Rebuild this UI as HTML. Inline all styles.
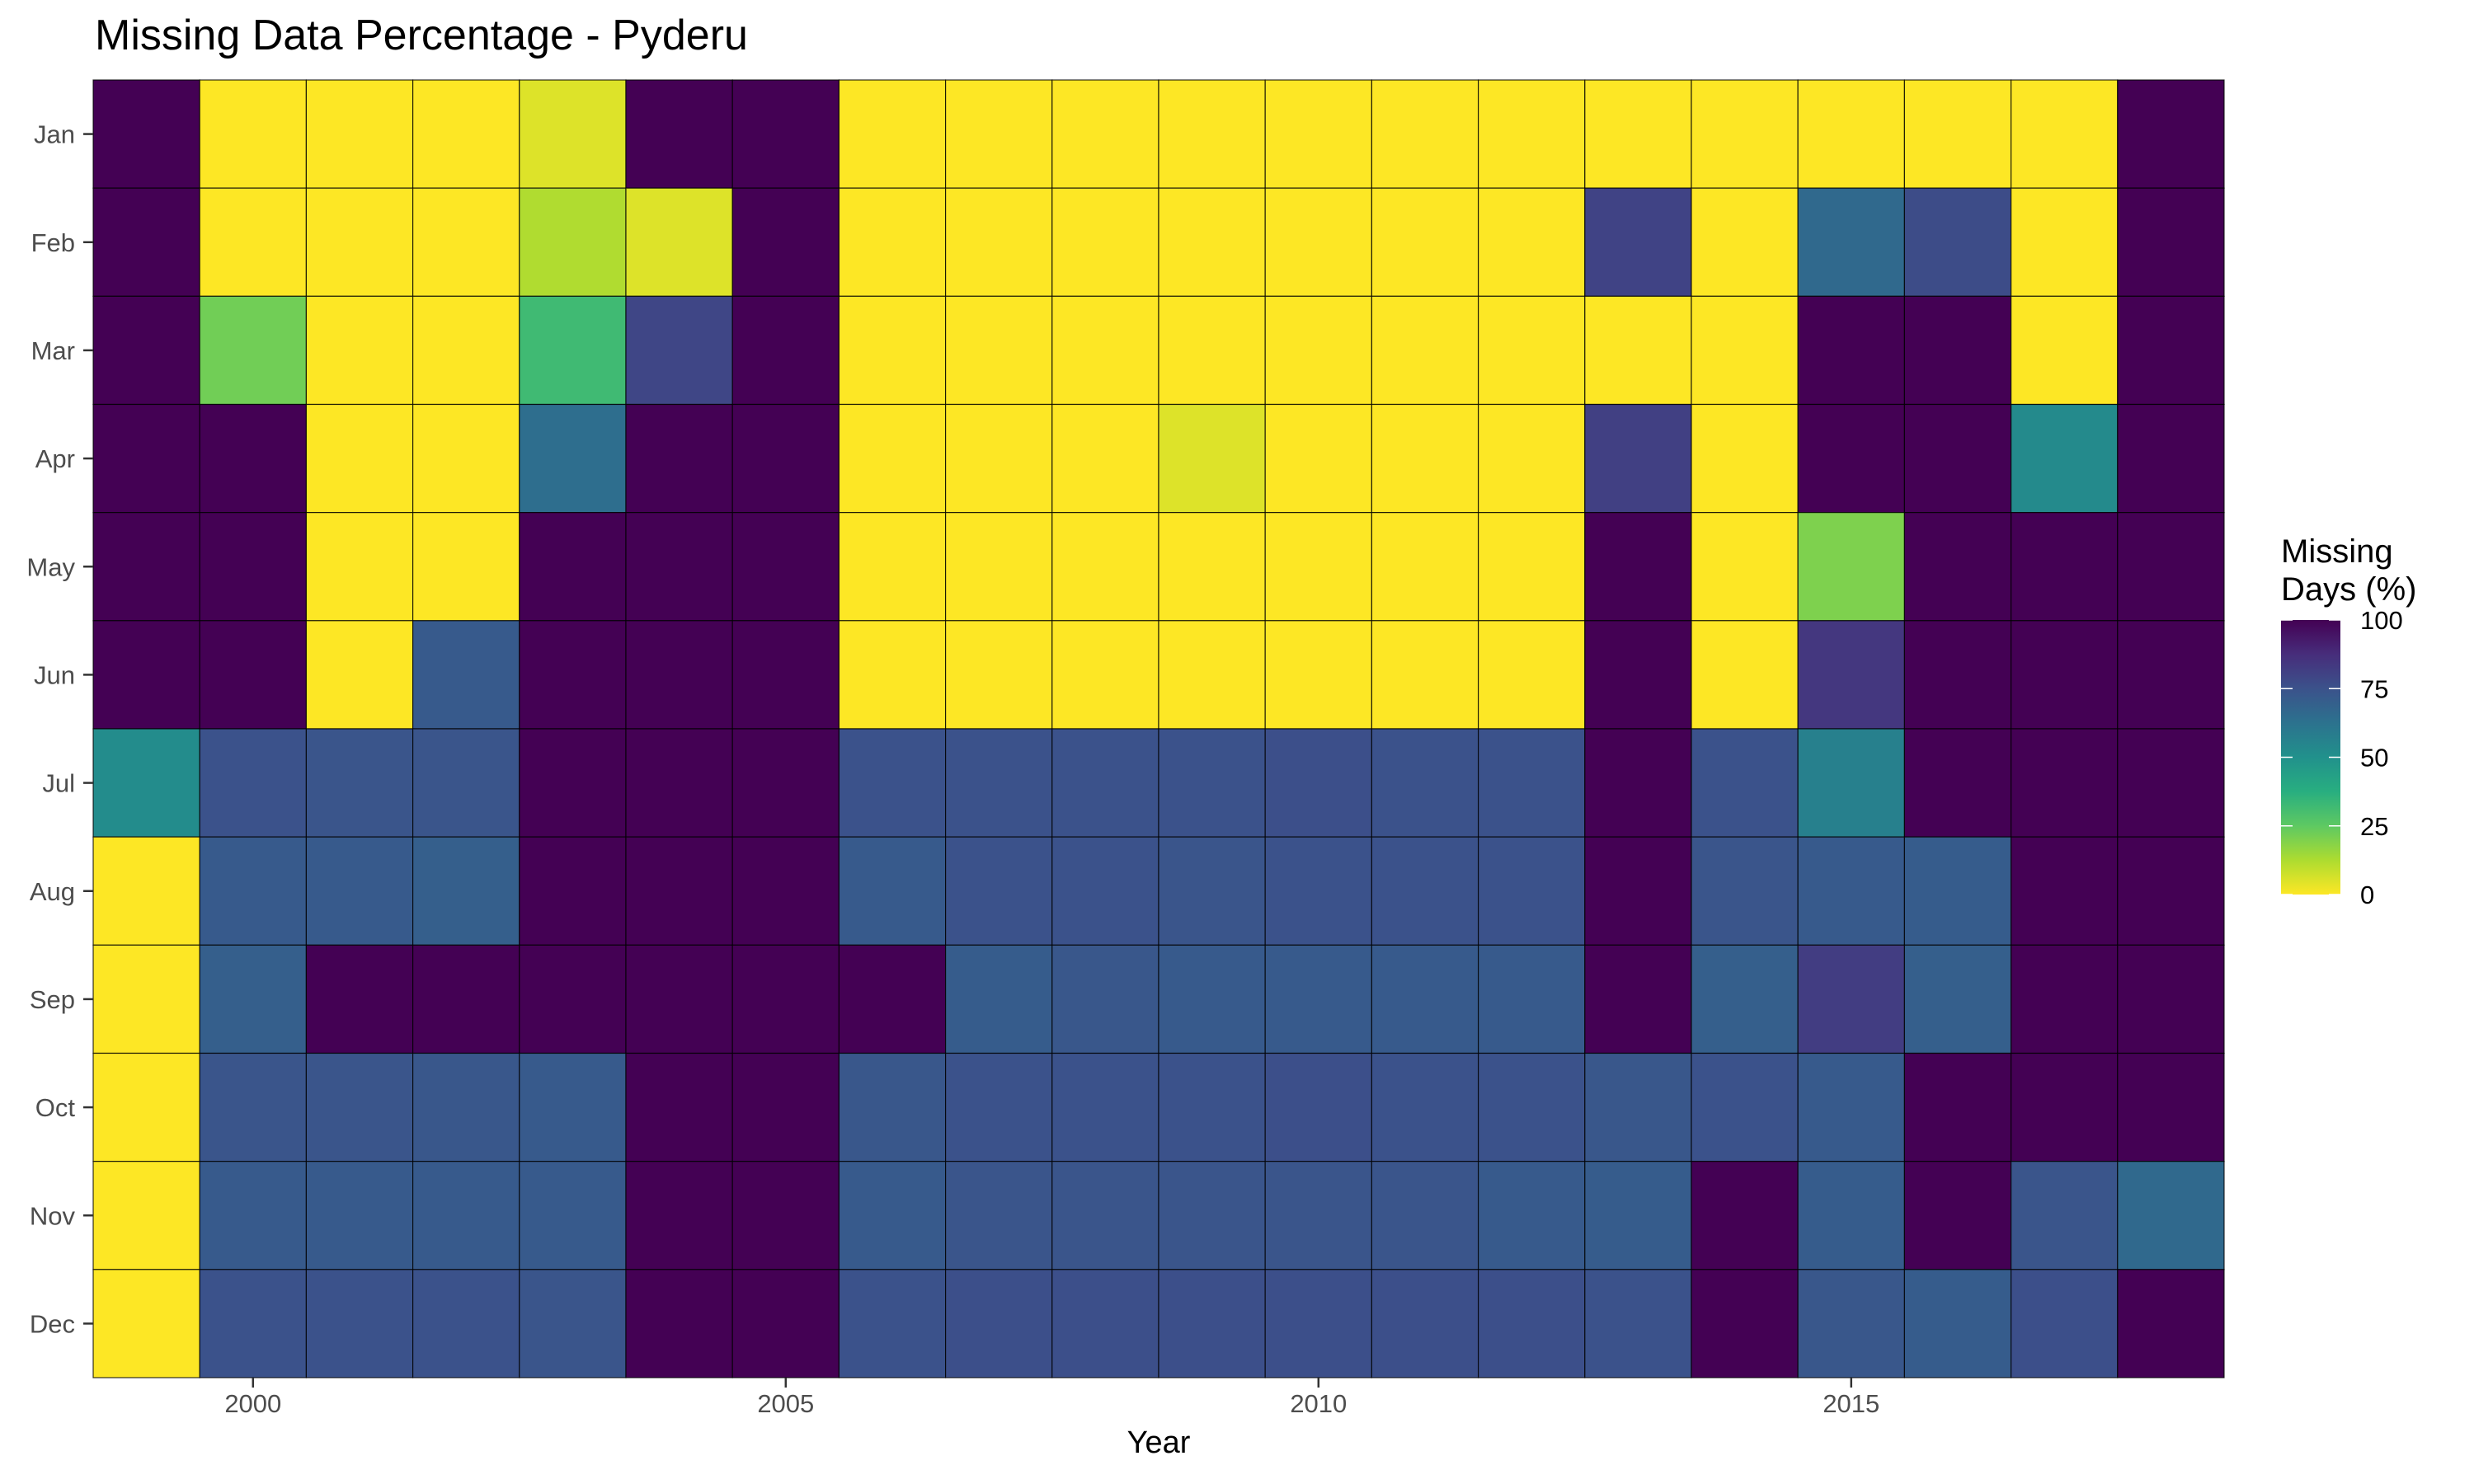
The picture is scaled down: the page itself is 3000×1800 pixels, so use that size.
<!DOCTYPE html>
<html><head><meta charset="utf-8"><style>
html,body{margin:0;padding:0;background:#fff;}
svg{display:block;font-family:"Liberation Sans",Arial,sans-serif;}
</style></head><body>
<svg id="chart" width="3000" height="1800" viewBox="0 0 3000 1800" xmlns="http://www.w3.org/2000/svg">
<defs>
<linearGradient id="vir" x1="0" y1="1" x2="0" y2="0">
<stop offset="0" stop-color="#fde725"/><stop offset="0.125" stop-color="#addc30"/>
<stop offset="0.25" stop-color="#5ec962"/><stop offset="0.375" stop-color="#28ae80"/>
<stop offset="0.5" stop-color="#21918c"/><stop offset="0.625" stop-color="#2c728e"/>
<stop offset="0.75" stop-color="#3b528b"/><stop offset="0.875" stop-color="#472d7b"/>
<stop offset="1" stop-color="#440154"/>
</linearGradient>
</defs>
<text x="115" y="60" font-size="52" fill="#000">Missing Data Percentage - Pyderu</text>
<g id="cells"></g>
<g id="yaxis"></g>
<g id="xaxis"></g>
<text x="1405" y="1762" font-size="38" text-anchor="middle" fill="#000">Year</text>
<g>
<text x="2766" y="682" font-size="40" fill="#000">Missing</text>
<text x="2766" y="728" font-size="40" fill="#000">Days (%)</text>
<rect x="2766" y="752" width="72" height="333" fill="url(#vir)"/>
<g id="legticks"></g>
</g>
</svg>
<script>
const years = [1999,2000,2001,2002,2003,2004,2005,2006,2007,2008,2009,2010,2011,2012,2013,2014,2015,2016,2017,2018];
const months = ["Jan","Feb","Mar","Apr","May","Jun","Jul","Aug","Sep","Oct","Nov","Dec"];
const xTicks = [2000,2005,2010,2015];
const legendTicks = [0,25,50,75,100];
const rowJan = [100,0,0,0,5,100,100,0,0,0,0,0,0,0,0,0,0,0,0,100];
const rowFeb = [100,0,0,0,12,5,100,0,0,0,0,0,0,0,80,0,66,77,0,100];
const rowMar = [100,22,0,0,32,79,100,0,0,0,0,0,0,0,0,0,100,100,0,100];
const rowApr = [100,100,0,0,64,100,100,0,0,0,5,0,0,0,81,0,100,100,53,100];
const rowMay = [100,100,0,0,100,100,100,0,0,0,0,0,0,0,100,0,20,100,100,100];
const rowJun = [100,100,0,72,100,100,100,0,0,0,0,0,0,0,100,0,84,100,100,100];
const rowJul = [52,75,74,74,100,100,100,75,75,75,75,76,75,75,100,75,57,100,100,100];
const rowAug = [0,72,72,70,100,100,100,72,75,75,74,75,75,75,100,74,72,71,100,100];
const rowSep = [0,70,100,100,100,100,100,100,71,73,72,72,72,72,100,70,82,70,100,100];
const rowOct = [0,74,74,73,72,100,100,73,75,75,75,76,75,75,73,75,72,100,100,100];
const rowNov = [0,72,72,72,72,100,100,72,74,74,74,74,74,72,71,100,71,100,74,66];
const rowDec = [0,75,75,75,74,100,100,75,76,76,76,76,76,76,75,100,73,71,76,100];
const values = [rowJan,rowFeb,rowMar,rowApr,rowMay,rowJun,rowJul,rowAug,rowSep,rowOct,rowNov,rowDec];

const NS="http://www.w3.org/2000/svg";
const L=113,R=2697,T=97,B=1671;
const cw=(R-L)/years.length, ch=(B-T)/months.length;
const xScale=y=>L+(y-years[0])*cw;
const yScale=i=>T+i*ch;
const vir=[[253,231,37],[173,220,48],[94,201,98],[40,174,128],[33,145,140],[44,114,142],[59,82,139],[71,45,123],[68,1,84]];
function color(v){
  const t=Math.max(0,Math.min(1,v/100))*(vir.length-1);
  const i=Math.min(Math.floor(t),vir.length-2), f=t-i;
  const c=vir[i].map((a,k)=>Math.round(a+(vir[i+1][k]-a)*f));
  return `rgb(${c[0]},${c[1]},${c[2]})`;
}
const cells=document.getElementById('cells');
values.forEach((row,mi)=>{
  row.forEach((v,yi)=>{
    const r=document.createElementNS(NS,'rect');
    r.setAttribute('x',xScale(years[yi]));
    r.setAttribute('y',yScale(mi));
    r.setAttribute('width',cw);
    r.setAttribute('height',ch);
    r.setAttribute('fill',color(v));
    r.setAttribute('stroke','#000');
    r.setAttribute('stroke-width','1.2');
    r.setAttribute('stroke-opacity','0.8');
    
    
    cells.appendChild(r);
  });
});
const ya=document.getElementById('yaxis');
months.forEach((m,i)=>{
  const cy=yScale(i)+ch/2;
  const t=document.createElementNS(NS,'text');
  t.setAttribute('x',91);t.setAttribute('y',cy+11);
  t.setAttribute('font-size','31');t.setAttribute('fill','#4d4d4d');t.setAttribute('text-anchor','end');
  t.textContent=m;
  
  
  ya.appendChild(t);
  const l=document.createElementNS(NS,'line');
  l.setAttribute('x1',101);l.setAttribute('x2',113);l.setAttribute('y1',cy);l.setAttribute('y2',cy);
  l.setAttribute('stroke','#333');l.setAttribute('stroke-width','2.5');
  
  
  ya.appendChild(l);
});
const xa=document.getElementById('xaxis');
xTicks.forEach(y=>{
  const cx=xScale(y)+cw/2;
  const l=document.createElementNS(NS,'line');
  l.setAttribute('x1',cx);l.setAttribute('x2',cx);l.setAttribute('y1',B);l.setAttribute('y2',B+12);
  l.setAttribute('stroke','#333');l.setAttribute('stroke-width','2.5');
  
  
  xa.appendChild(l);
  const t=document.createElementNS(NS,'text');
  t.setAttribute('x',cx);t.setAttribute('y',B+42);
  t.setAttribute('font-size','31');t.setAttribute('fill','#4d4d4d');t.setAttribute('text-anchor','middle');
  t.textContent=y;
  
  
  xa.appendChild(t);
});
const lg=document.getElementById('legticks');
legendTicks.forEach(v=>{
  const yy=1085-(v/100)*333;
  [[2766,2780],[2824,2838]].forEach(([a,b])=>{
    const l=document.createElementNS(NS,'line');
    l.setAttribute('x1',a);l.setAttribute('x2',b);l.setAttribute('y1',yy);l.setAttribute('y2',yy);
    l.setAttribute('stroke','#fff');l.setAttribute('stroke-width','1.5');
    
    
    lg.appendChild(l);
  });
  const t=document.createElementNS(NS,'text');
  t.setAttribute('x',2862);t.setAttribute('y',yy+11);
  t.setAttribute('font-size','31');t.setAttribute('fill','#000');
  t.textContent=v;
  
  
  lg.appendChild(t);
});
</script>
</body></html>
